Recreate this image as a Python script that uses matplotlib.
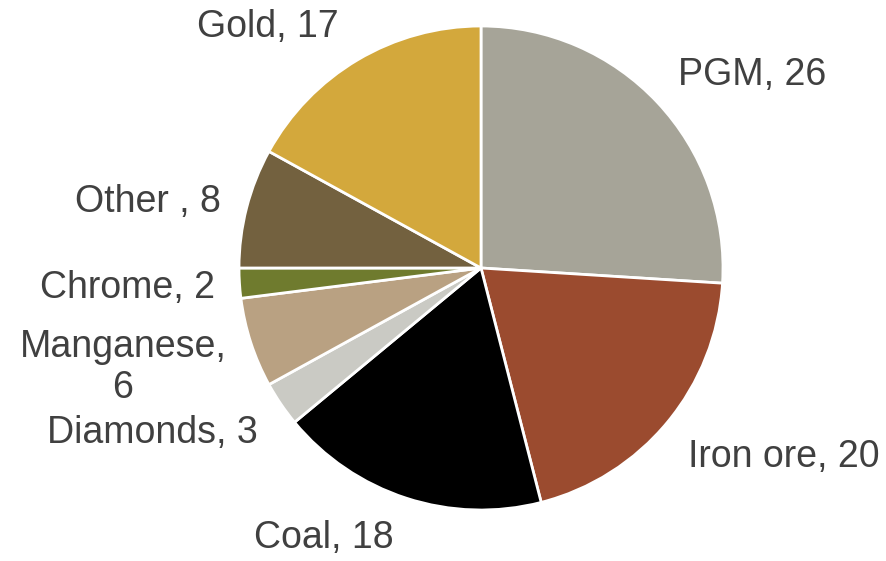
import matplotlib.pyplot as plt

names = ["PGM", "Iron ore", "Coal", "Diamonds", "Manganese", "Chrome", "Other ", "Gold"]
values = [26, 20, 18, 3, 6, 2, 8, 17]
colors = ["#A6A498", "#9B4B2F", "#000000", "#CACAC4", "#B9A182", "#6F7B2E", "#73613F", "#D3A83C"]

# label text and where it sits (pixel x centre, baseline y, from top-left)
label_text = ["PGM, 26", "Iron ore, 20", "Coal, 18", "Diamonds, 3", "Manganese,\n6",
              "Chrome, 2", "Other , 8", "Gold, 17"]
label_pos = [(752, 85), (784, 467), (324, 548), (152, 443), (123, 357),
             (128, 298), (148, 212), (268, 37)]

W, H = 886, 561
fig = plt.figure(figsize=(W / 100, H / 100), dpi=100)
cx, cy, r = 481, 268, 242
ax = fig.add_axes([(cx - r) / W, (H - cy - r) / H, 2 * r / W, 2 * r / H])
ax.pie(values, colors=colors, startangle=90, counterclock=False, radius=1,
       wedgeprops=dict(edgecolor="white", linewidth=2))
ax.set_xlim(-1, 1)
ax.set_ylim(-1, 1)
ax.axis("off")

for txt, (x, y) in zip(label_text, label_pos):
    for i, line in enumerate(txt.split("\n")):
        fig.text(x / W, 1 - (y + 41 * i) / H, line, ha="center", va="baseline",
                 fontsize=27, color="#404040", family="Liberation Sans")

fig.savefig("out.png", dpi=100)
